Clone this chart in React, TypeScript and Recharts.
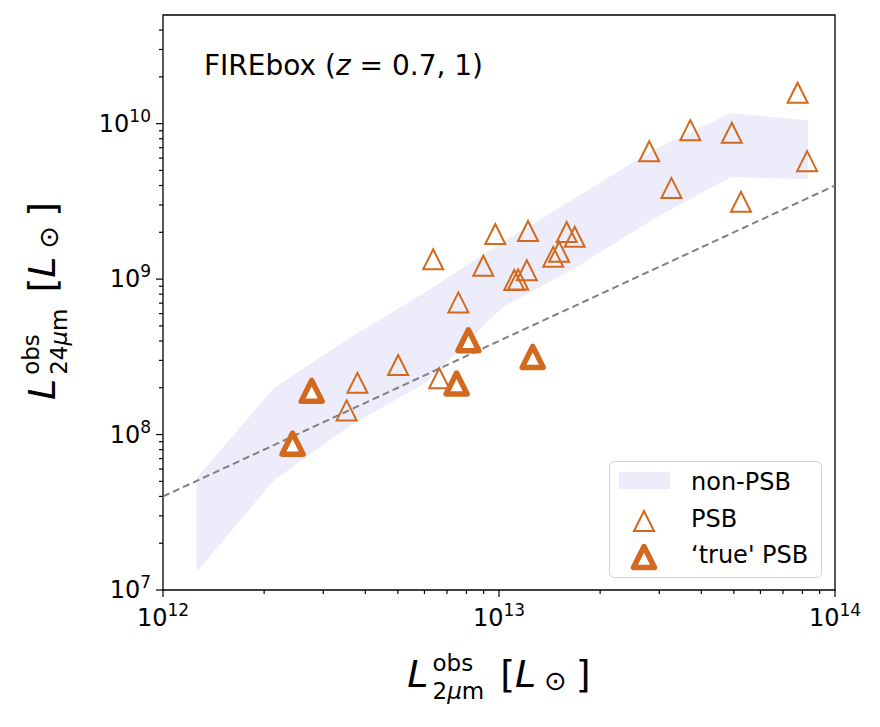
import { ComposedChart, Area, Line, Scatter, XAxis, YAxis, ReferenceArea } from "recharts";

// non-PSB band (16-84 percentile envelope)
const bandX = [1.26e12, 2.14e12, 3.63e12, 6.03e12, 1.02e13, 1.74e13, 2.88e13, 4.9e13, 8.32e13];
const bandLow = [1.31e7, 5.09e7, 1.15e8, 2.14e8, 6.52e8, 1.23e9, 2.43e9, 4.53e9, 4.4e9];
const bandHigh = [5.3e7, 1.99e8, 4.24e8, 8.24e8, 1.71e9, 3.47e9, 6.76e9, 1.17e10, 1.05e10];

// PSB galaxies
const psbX = [
  7.74e13, 3.71e13, 4.93e13, 2.8e13, 8.26e13, 3.26e13, 5.25e13, 9.75e12, 1.22e13, 1.59e13, 1.68e13, 1.51e13,
  1.45e13, 6.37e12, 8.98e12, 1.21e13, 1.11e13, 1.14e13, 7.57e12, 5.01e12, 3.79e12, 6.64e12, 3.52e12,
];
const psbY = [
  1.58e10, 9.08e9, 8.73e9, 6.65e9, 5.74e9, 3.86e9, 3.14e9, 1.95e9, 2.04e9, 2.01e9, 1.87e9, 1.5e9, 1.39e9,
  1.34e9, 1.22e9, 1.14e9, 9.86e8, 9.95e8, 7.08e8, 2.8e8, 2.15e8, 2.3e8, 1.43e8,
];

// 'true' PSB galaxies
const trueX = [2.77e12, 2.43e12, 7.48e12, 8.11e12, 1.26e13];
const trueY = [1.91e8, 8.74e7, 2.13e8, 4.04e8, 3.16e8];

// dashed reference relation
const dashX = [1e12, 1e14];
const dashY = [4e7, 4e9];

const xTicks = [1e12, 2e12, 3e12, 4e12, 5e12, 6e12, 7e12, 8e12, 9e12, 1e13, 2e13, 3e13, 4e13, 5e13, 6e13, 7e13, 8e13, 9e13, 1e14];
const yTicks = [
  1e7, 2e7, 3e7, 4e7, 5e7, 6e7, 7e7, 8e7, 9e7, 1e8, 2e8, 3e8, 4e8, 5e8, 6e8, 7e8, 8e8, 9e8,
  1e9, 2e9, 3e9, 4e9, 5e9, 6e9, 7e9, 8e9, 9e9, 1e10, 2e10, 3e10, 4e10,
];

const ORANGE = "#d2691e";
const FONT = "DejaVu Sans";

const bandData = bandX.map((x, i) => ({ x, range: [bandLow[i], bandHigh[i]] }));
const psbData = psbX.map((x, i) => ({ x, y: psbY[i] }));
const trueData = trueX.map((x, i) => ({ x, y: trueY[i] }));
const dashData = dashX.map((x, i) => ({ x, y: dashY[i] }));

const isMajor = (v: number) => Math.abs(Math.log10(v) - Math.round(Math.log10(v))) < 1e-6;

function XTick({ x, y, payload }: any) {
  const v = payload.value;
  const major = isMajor(v);
  return (
    <g>
      <line x1={x} x2={x} y1={y} y2={y + (major ? 7 : 4)} stroke="#000" strokeWidth={1.2} />
      {major && (
        <text x={x} y={y + 36} textAnchor="middle" fontFamily={FONT} fontSize={24} fill="#000">
          10<tspan dy={-10} fontSize={17}>{Math.round(Math.log10(v))}</tspan>
        </text>
      )}
    </g>
  );
}

function YTick({ x, y, payload }: any) {
  const v = payload.value;
  const major = isMajor(v);
  return (
    <g>
      <line x1={x} x2={x - (major ? 7 : 4)} y1={y} y2={y} stroke="#000" strokeWidth={1.2} />
      {major && (
        <text x={x - 12} y={y + 8} textAnchor="end" fontFamily={FONT} fontSize={24} fill="#000">
          10<tspan dy={-10} fontSize={17}>{Math.round(Math.log10(v))}</tspan>
        </text>
      )}
    </g>
  );
}

const openTri = (cx: number, cy: number, h: number) =>
  `M${cx},${cy - h} L${cx - h},${cy + h} L${cx + h},${cy + h} Z`;

function OpenMarker(p: any) {
  return <path d={openTri(p.cx, p.cy, 10)} fill="none" stroke={ORANGE} strokeWidth={2} />;
}

function ThickMarker(p: any) {
  return (
    <path d={openTri(p.cx, p.cy, 10.5)} fill="#fff" stroke={ORANGE} strokeWidth={5.5} strokeLinejoin="round" />
  );
}

function AxisLabel({ sub }: { sub: string }) {
  return (
    <div style={{ display: "flex", alignItems: "center", fontFamily: FONT, fontSize: 38, whiteSpace: "nowrap" }}>
      <span style={{ fontStyle: "italic" }}>L</span>
      <div
        style={{
          display: "flex",
          flexDirection: "column",
          fontSize: 23,
          marginLeft: 4,
          marginTop: 6,
        }}
      >
        <div style={{ height: 28, lineHeight: "28px" }}>obs</div>
        <div style={{ height: 28, lineHeight: "28px" }}>
          {sub}
          <span style={{ fontStyle: "italic" }}>μ</span>m
        </div>
      </div>
      <span style={{ marginLeft: 16 }}>[</span>
      <span style={{ fontStyle: "italic" }}>L</span>
      <span style={{ fontSize: 27, marginLeft: 8, marginTop: 12 }}>⊙</span>
      <span style={{ marginLeft: 9 }}>]</span>
    </div>
  );
}

export default function App() {
  return (
    <div style={{ position: "absolute", left: 0, top: 0, width: 880, height: 727, background: "#fff" }}>
      <ComposedChart
        width={880}
        height={727}
        data={bandData}
        margin={{ top: 15, right: 45, left: 63, bottom: 77 }}
      >
        <XAxis
          dataKey="x"
          type="number"
          scale="log"
          domain={[1e12, 1e14]}
          allowDataOverflow
          ticks={xTicks}
          interval={0}
          tick={<XTick />}
          tickSize={0}
          tickMargin={0}
          tickLine={false}
          axisLine={false}
          height={60}
        />
        <YAxis
          dataKey="y"
          type="number"
          scale="log"
          domain={[1e7, 5e10]}
          allowDataOverflow
          ticks={yTicks}
          interval={0}
          tick={<YTick />}
          tickSize={0}
          tickMargin={0}
          tickLine={false}
          axisLine={false}
          width={100}
        />
        <Area
          dataKey="range"
          type="linear"
          stroke="none"
          fill="#e6e6fa"
          fillOpacity={0.75}
          isAnimationActive={false}
        />
        <Line
          data={dashData}
          dataKey="y"
          type="linear"
          stroke="#808080"
          strokeWidth={2}
          strokeDasharray="7 4"
          dot={false}
          activeDot={false}
          isAnimationActive={false}
        />
        <Scatter data={psbData} dataKey="y" shape={OpenMarker} isAnimationActive={false} />
        <Scatter data={trueData} dataKey="y" shape={ThickMarker} isAnimationActive={false} />
        <ReferenceArea
          x1={1e12}
          x2={1e14}
          y1={1e7}
          y2={5e10}
          fill="none"
          fillOpacity={0}
          stroke="#000"
          strokeWidth={1.3}
          ifOverflow="visible"
        />
      </ComposedChart>

      <svg width={880} height={727} style={{ position: "absolute", left: 0, top: 0, pointerEvents: "none" }}>
        <text x={204} y={75} fontFamily={FONT} fontSize={28} fill="#000">
          FIREbox (<tspan fontStyle="italic">z</tspan> = 0.7, 1)
        </text>
        <g transform="translate(609,461)">
          <rect x={0.5} y={0.5} width={212} height={116} rx={5} fill="#fff" fillOpacity={0.8} stroke="#d0d0d0" />
          <rect x={10} y={11} width={51} height={17} fill="#e6e6fa" fillOpacity={0.75} />
          <path d={openTri(35, 60, 10)} fill="none" stroke={ORANGE} strokeWidth={2} />
          <path d={openTri(35, 96, 10.5)} fill="#fff" stroke={ORANGE} strokeWidth={5.5} strokeLinejoin="round" />
          <text x={82} y={29} fontFamily={FONT} fontSize={24} fill="#000">non-PSB</text>
          <text x={82} y={66} fontFamily={FONT} fontSize={24} fill="#000">PSB</text>
          <text x={82} y={102} fontFamily={FONT} fontSize={24} fill="#000">‘true' PSB</text>
        </g>
      </svg>

      <div style={{ position: "absolute", left: 163, width: 672, top: 643, display: "flex", justifyContent: "center" }}>
        <AxisLabel sub="2" />
      </div>
      <div
        style={{
          position: "absolute",
          left: 42,
          top: 301,
          width: 0,
          height: 0,
          display: "flex",
          justifyContent: "center",
          alignItems: "center",
        }}
      >
        <div style={{ transform: "rotate(-90deg)" }}>
          <AxisLabel sub="24" />
        </div>
      </div>
    </div>
  );
}
